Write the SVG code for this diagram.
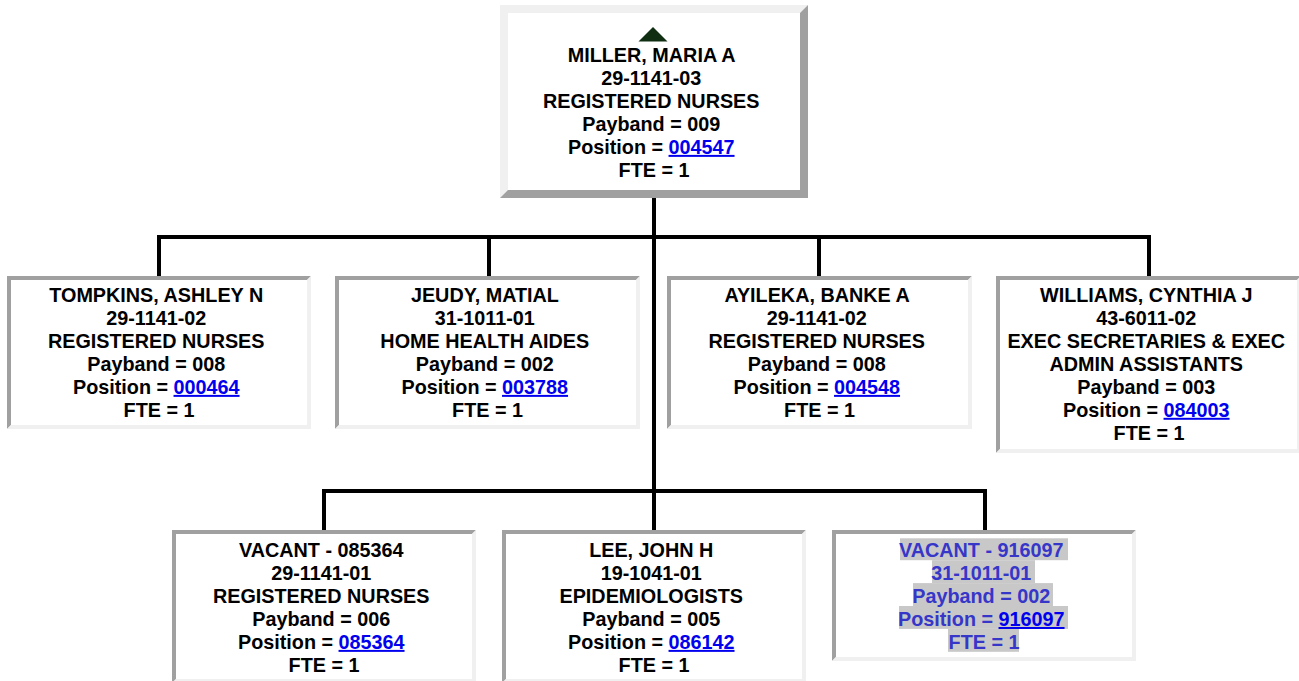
<svg xmlns="http://www.w3.org/2000/svg" width="1299" height="681" viewBox="0 0 1299 681">
<style>
  .t { font-family: "Liberation Sans", Arial, sans-serif; font-weight: bold; font-size: 19.8px; fill: #000; text-anchor: middle; }
  .sel { fill: #3636c8; }
  .lk { fill: #0000ee; text-decoration: underline; }
  .lt { fill: #f0f0f0; }
  .dk { fill: #a0a0a0; }
  .in { fill: #ffffff; }
  .hl { fill: #c8c8c8; }
  .cn { stroke: #000; stroke-width: 4; fill: none; stroke-linecap: butt; }
</style>
<rect x="0" y="0" width="1299" height="681" fill="#ffffff"/>

<g id="connectors">
  <path class="cn" d="M654 197 V530"/>
  <path class="cn" d="M157 237 H1151"/>
  <path class="cn" d="M159 237 V276 M489 237 V276 M819 237 V276 M1149 237 V276"/>
  <path class="cn" d="M322 491 H987"/>
  <path class="cn" d="M324 491 V530 M985 491 V530"/>
</g>

<g id="node-miller">
  <path class="lt" d="M500 5 H808 L800 13 H508 V190 L500 198 Z"/>
  <path class="dk" d="M808 5 V198 H500 L508 190 H800 V13 Z"/>
  <rect class="in" x="508" y="13" width="292" height="177"/>
  <polygon points="653,27 638.5,41.5 667.5,41.5" fill="#0f2e12"/>
  <text class="t">
    <tspan x="654" y="62.3">MILLER, MARIA A</tspan>
    <tspan x="654" y="85.2">29-1141-03</tspan>
    <tspan x="654" y="108.1">REGISTERED NURSES</tspan>
    <tspan x="654" y="131">Payband = 009</tspan>
    <tspan x="654" y="153.9">Position = <tspan class="lk">004547</tspan></tspan>
    <tspan x="654" y="176.8">FTE = 1</tspan>
  </text>
</g>

<g id="node-tompkins">
  <path class="dk" d="M7 276 H311 L307 280 H11 V425 L7 429 Z"/>
  <path class="lt" d="M311 276 V429 H7 L11 425 H307 V280 Z"/>
  <rect class="in" x="11" y="280" width="296" height="145"/>
  <text class="t">
    <tspan x="159" y="302.3">TOMPKINS, ASHLEY N</tspan>
    <tspan x="159" y="325.2">29-1141-02</tspan>
    <tspan x="159" y="348.1">REGISTERED NURSES</tspan>
    <tspan x="159" y="371">Payband = 008</tspan>
    <tspan x="159" y="393.9">Position = <tspan class="lk">000464</tspan></tspan>
    <tspan x="159" y="416.8">FTE = 1</tspan>
  </text>
</g>

<g id="node-jeudy">
  <path class="dk" d="M335 276 H640 L636 280 H339 V425 L335 429 Z"/>
  <path class="lt" d="M640 276 V429 H335 L339 425 H636 V280 Z"/>
  <rect class="in" x="339" y="280" width="297" height="145"/>
  <text class="t">
    <tspan x="487.5" y="302.3">JEUDY, MATIAL</tspan>
    <tspan x="487.5" y="325.2">31-1011-01</tspan>
    <tspan x="487.5" y="348.1">HOME HEALTH AIDES</tspan>
    <tspan x="487.5" y="371">Payband = 002</tspan>
    <tspan x="487.5" y="393.9">Position = <tspan class="lk">003788</tspan></tspan>
    <tspan x="487.5" y="416.8">FTE = 1</tspan>
  </text>
</g>

<g id="node-ayileka">
  <path class="dk" d="M667 276 H972 L968 280 H671 V425 L667 429 Z"/>
  <path class="lt" d="M972 276 V429 H667 L671 425 H968 V280 Z"/>
  <rect class="in" x="671" y="280" width="297" height="145"/>
  <text class="t">
    <tspan x="819.5" y="302.3">AYILEKA, BANKE A</tspan>
    <tspan x="819.5" y="325.2">29-1141-02</tspan>
    <tspan x="819.5" y="348.1">REGISTERED NURSES</tspan>
    <tspan x="819.5" y="371">Payband = 008</tspan>
    <tspan x="819.5" y="393.9">Position = <tspan class="lk">004548</tspan></tspan>
    <tspan x="819.5" y="416.8">FTE = 1</tspan>
  </text>
</g>

<g id="node-williams">
  <path class="dk" d="M996 276 H1301 L1297 280 H1000 V449 L996 453 Z"/>
  <path class="lt" d="M1301 276 V453 H996 L1000 449 H1297 V280 Z"/>
  <rect class="in" x="1000" y="280" width="297" height="169"/>
  <text class="t">
    <tspan x="1149" y="302.3">WILLIAMS, CYNTHIA J</tspan>
    <tspan x="1149" y="325.2">43-6011-02</tspan>
    <tspan x="1149" y="348.1">EXEC SECRETARIES &amp; EXEC</tspan>
    <tspan x="1149" y="371">ADMIN ASSISTANTS</tspan>
    <tspan x="1149" y="393.9">Payband = 003</tspan>
    <tspan x="1149" y="416.8">Position = <tspan class="lk">084003</tspan></tspan>
    <tspan x="1149" y="439.7">FTE = 1</tspan>
  </text>
</g>

<g id="node-vacant-085364">
  <path class="dk" d="M172 530 H476 L472 534 H176 V679 L172 683 Z"/>
  <path class="lt" d="M476 530 V683 H172 L176 679 H472 V534 Z"/>
  <rect class="in" x="176" y="534" width="296" height="145"/>
  <text class="t">
    <tspan x="324" y="557.3">VACANT - 085364</tspan>
    <tspan x="324" y="580.2">29-1141-01</tspan>
    <tspan x="324" y="603.1">REGISTERED NURSES</tspan>
    <tspan x="324" y="626">Payband = 006</tspan>
    <tspan x="324" y="648.9">Position = <tspan class="lk">085364</tspan></tspan>
    <tspan x="324" y="671.8">FTE = 1</tspan>
  </text>
</g>

<g id="node-lee">
  <path class="dk" d="M502 530 H806 L802 534 H506 V679 L502 683 Z"/>
  <path class="lt" d="M806 530 V683 H502 L506 679 H802 V534 Z"/>
  <rect class="in" x="506" y="534" width="296" height="145"/>
  <text class="t">
    <tspan x="654" y="557.3">LEE, JOHN H</tspan>
    <tspan x="654" y="580.2">19-1041-01</tspan>
    <tspan x="654" y="603.1">EPIDEMIOLOGISTS</tspan>
    <tspan x="654" y="626">Payband = 005</tspan>
    <tspan x="654" y="648.9">Position = <tspan class="lk">086142</tspan></tspan>
    <tspan x="654" y="671.8">FTE = 1</tspan>
  </text>
</g>

<g id="node-vacant-916097">
  <path class="dk" d="M832 530 H1136 L1132 534 H836 V657 L832 661 Z"/>
  <path class="lt" d="M1136 530 V661 H832 L836 657 H1132 V534 Z"/>
  <rect class="in" x="836" y="534" width="296" height="123"/>
  <rect class="hl" x="900" y="538.3" width="168" height="21.9"/>
  <rect class="hl" x="932" y="560.2" width="103" height="22.9"/>
  <rect class="hl" x="913" y="583.1" width="140" height="22.9"/>
  <rect class="hl" x="899" y="606" width="169" height="22.9"/>
  <rect class="hl" x="948" y="628.9" width="71" height="22.9"/>
  <text class="t sel">
    <tspan x="984" y="557.3">VACANT - 916097</tspan>
    <tspan x="984" y="580.2">31-1011-01</tspan>
    <tspan x="984" y="603.1">Payband = 002</tspan>
    <tspan x="984" y="626">Position = <tspan class="lk">916097</tspan></tspan>
    <tspan x="984" y="648.9">FTE = 1</tspan>
  </text>
</g>
</svg>
